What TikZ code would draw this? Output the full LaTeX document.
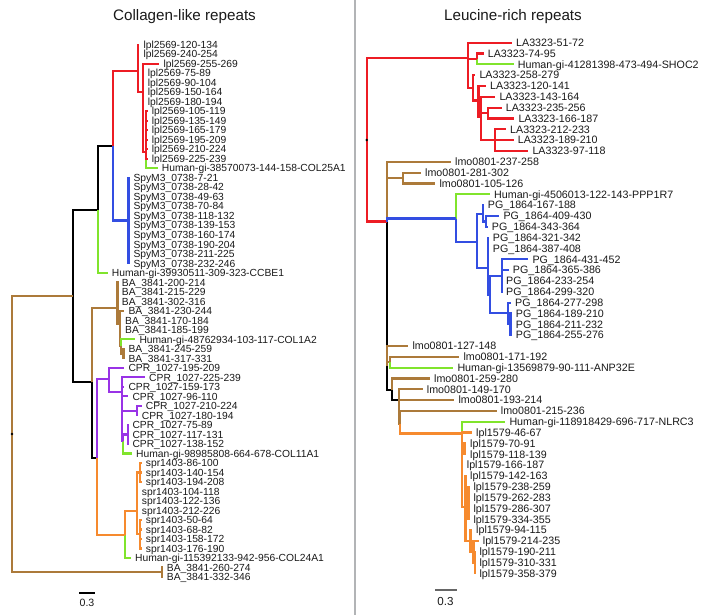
\documentclass[tikz,border=0pt]{standalone}
\usepackage{fontspec}
\setmainfont{Liberation Sans}
\usepackage{tikz}
\usetikzlibrary{positioning, calc}
\definecolor{cladered}{RGB}{237, 28, 36}
\definecolor{cladeblue}{RGB}{51, 78, 226}
\definecolor{cladegreen}{RGB}{128, 228, 44}
\definecolor{cladebrown}{RGB}{172, 122, 58}
\definecolor{cladepurple}{RGB}{153, 51, 230}
\definecolor{cladeorange}{RGB}{246, 138, 46}
\definecolor{dividergray}{RGB}{178, 180, 182}
\definecolor{labelblack}{RGB}{25, 25, 25}

\begin{document}
\begin{tikzpicture}[
    x=1pt, y=-1pt,
    branch/.style={
        line width=2.2pt
    },
    leafa/.style={
        anchor=base west,
        inner sep=0pt,
        text=labelblack,
        font=\fontsize{10.3}{12}\selectfont
    },
    leafb/.style={
        leafa,
        font=\fontsize{10.7}{12}\selectfont
    },
    paneltitle/.style={
        anchor=base,
        inner sep=0pt,
        text=labelblack,
        font=\fontsize{15.2}{18}\selectfont
    },
    scalebar/.style={
        line width=1.6pt
    },
    scalelabel/.style={
        anchor=base,
        inner sep=0pt,
        text=labelblack
    }
]
    \useasboundingbox (0,0) rectangle (710,615);

    % Panel divider and titles
    \draw[dividergray, line width=1.5pt] (355,0) -- (355,615);
    \node[paneltitle] (titleA) at (184.5,20.6) {Collagen-like repeats};
    \node[paneltitle] (titleB) at (513,20.6) {Leucine-rich repeats};

    % Left tree: leaves
    \foreach \tx/\lab [count=\i] in {
        139.3/lpl2569-120-134, 139.3/lpl2569-240-254, 159.3/lpl2569-255-269,
        143.7/lpl2569-75-89, 143.7/lpl2569-90-104, 143.7/lpl2569-150-164,
        143.7/lpl2569-180-194, 147.7/lpl2569-105-119, 147.7/lpl2569-135-149,
        147.7/lpl2569-165-179, 147.7/lpl2569-195-209, 147.7/lpl2569-210-224,
        147.7/lpl2569-225-239, 157.7/Human-gi-38570073-144-158-COL25A1,
        129.3/SpyM3\_0738-7-21, 129.3/SpyM3\_0738-28-42, 129.3/SpyM3\_0738-49-63,
        129.3/SpyM3\_0738-70-84, 129.3/SpyM3\_0738-118-132, 129.3/SpyM3\_0738-139-153,
        129.3/SpyM3\_0738-160-174, 129.3/SpyM3\_0738-190-204, 129.3/SpyM3\_0738-211-225,
        129.3/SpyM3\_0738-232-246, 107.7/Human-gi-39930511-309-323-CCBE1,
        117.7/BA\_3841-200-214, 117.7/BA\_3841-215-229, 117.7/BA\_3841-302-316,
        124.3/BA\_3841-230-244, 121/BA\_3841-170-184, 121/BA\_3841-185-199,
        135.3/Human-gi-48762934-103-117-COL1A2, 124.3/BA\_3841-245-259,
        124.3/BA\_3841-317-331, 124.3/CPR\_1027-195-209, 145/CPR\_1027-225-239,
        124.3/CPR\_1027-159-173, 128.3/CPR\_1027-96-110, 141.7/CPR\_1027-210-224,
        137.7/CPR\_1027-180-194, 128.3/CPR\_1027-75-89, 128.3/CPR\_1027-117-131,
        128.3/CPR\_1027-138-152, 132/Human-gi-98985808-664-678-COL11A1,
        141.7/spr1403-86-100, 141.7/spr1403-140-154, 141.7/spr1403-194-208,
        137.7/spr1403-104-118, 137.7/spr1403-122-136, 137.7/spr1403-212-226,
        141.7/spr1403-50-64, 141.7/spr1403-68-82, 141.7/spr1403-158-172,
        141.7/spr1403-176-190, 131/Human-gi-115392133-942-956-COL24A1,
        162.7/BA\_3841-260-274, 162.7/BA\_3841-332-346
    }{
        \coordinate (a\i) at (\tx, {44.7+9.505*(\i-1)});
        \node[leafa] (ta\i) at ([xshift=4pt, yshift=-3.7pt]a\i) {\lab};
    }

    % Left tree: inner nodes
    \coordinate (rootA) at (12,434);
    \coordinate (n1) at (73.3,296);
    \coordinate (n2) at (98.3,210);
    \coordinate (n3) at (92.3,381.7);
    \coordinate (n4) at (96.7,458.3);
    \coordinate (r0) at (113.3,145.7);
    \coordinate (r1) at (138.3,70.7);
    \coordinate (r2) at (142.7,91.7);
    \coordinate (r3) at (146,151.7);
    \coordinate (b0) at (128.5,220.5);
    \coordinate (ba0) at (117.5,308);
    \coordinate (ba1) at (120,324);
    \coordinate (ba4) at (121,346);
    \coordinate (ba3) at (123.5,353.6);
    \coordinate (cp0) at (109,379);
    \coordinate (cp1) at (122.3,392);
    \coordinate (cp2) at (136.7,410.6);
    \coordinate (cp4) at (123.3,441);
    \coordinate (cp3) at (127.7,434.5);
    \coordinate (sp0) at (125,535);
    \coordinate (sp1) at (136.7,511);
    \coordinate (sp2) at (140,472.5);
    \coordinate (sp3) at (140,534.2);
    \coordinate (bx) at (161.7,572.3);

    % Right tree: leaves
    \foreach \tx/\lab [count=\i] in {
        512/LA3323-51-72, 483.7/LA3323-74-95, 513.7/Human-gi-41281398-473-494-SHOC2,
        475.3/LA3323-258-279, 486/LA3323-120-141, 495.3/LA3323-143-164,
        501.7/LA3323-235-256, 514.3/LA3323-166-187, 506/LA3323-212-233,
        513.7/LA3323-189-210, 528.3/LA3323-97-118, 451/lmo0801-237-258,
        421/lmo0801-281-302, 435.3/lmo0801-105-126, 490/Human-gi-4506013-122-143-PPP1R7,
        483.7/PG\_1864-167-188, 499.3/PG\_1864-409-430, 487.7/PG\_1864-343-364,
        488.7/PG\_1864-321-342, 488.7/PG\_1864-387-408, 528.3/PG\_1864-431-452,
        508.7/PG\_1864-365-386, 502/PG\_1864-233-254, 502/PG\_1864-299-320,
        511/PG\_1864-277-298, 511.7/PG\_1864-189-210, 511.7/PG\_1864-211-232,
        511.7/PG\_1864-255-276, 408.3/lmo0801-127-148, 459.3/lmo0801-171-192,
        453.3/Human-gi-13569879-90-111-ANP32E, 430/lmo0801-259-280,
        422.7/lmo0801-149-170, 454.3/lmo0801-193-214, 496.7/lmo0801-215-236,
        505.3/Human-gi-118918429-696-717-NLRC3, 472/lpl1579-46-67,
        466/lpl1579-70-91, 466/lpl1579-118-139, 462.7/lpl1579-166-187,
        466/lpl1579-142-163, 469.3/lpl1579-238-259, 469.3/lpl1579-262-283,
        469.3/lpl1579-286-307, 469.3/lpl1579-334-355, 472/lpl1579-94-115,
        478.7/lpl1579-214-235, 475.3/lpl1579-190-211, 475.3/lpl1579-310-331,
        475.3/lpl1579-358-379
    }{
        \coordinate (b\i) at (\tx, {42.7+10.83*(\i-1)});
        \node[leafb] (tb\i) at ([xshift=4pt, yshift=-3.8pt]b\i) {\lab};
    }

    % Right tree: inner nodes
    \coordinate (rootB) at (366.7,140);
    \coordinate (la0) at (467.7,58.3);
    \coordinate (la1) at (476.7,59);
    \coordinate (la2) at (473.3,88);
    \coordinate (la3) at (478.5,100.5);
    \coordinate (la4) at (481,116.7);
    \coordinate (la5) at (488.3,113.1);
    \coordinate (la6) at (495,140.2);
    \coordinate (m0) at (386.7,221.5);
    \coordinate (ma1) at (403.3,178.1);
    \coordinate (pg0) at (455.7,218.5);
    \coordinate (pg1) at (476.7,241.7);
    \coordinate (pg2) at (482.7,214);
    \coordinate (pg3) at (486,221.4);
    \coordinate (pg5) at (488.3,268.3);
    \coordinate (pg6) at (490,295);
    \coordinate (pg7) at (501.7,276);
    \coordinate (pg8) at (508.3,313.3);
    \coordinate (pg10) at (510.5,324.3);
    \coordinate (mb) at (387.3,365.8);
    \coordinate (mc) at (390,362.2);
    \coordinate (md) at (391.7,390);
    \coordinate (me) at (399.3,400);
    \coordinate (mf) at (399.8,423.5);
    \coordinate (lp0) at (461.7,433.5);
    \coordinate (lp1) at (462.3,446);
    \coordinate (lp2) at (464.5,448.8);
    \coordinate (lp3) at (465.5,506.6);
    \coordinate (lp4) at (468.5,503);
    \coordinate (lp5) at (470.5,540.9);
    \coordinate (lp6) at (473.5,551.7);
    \coordinate (lp7) at (475,562.6);

    % Branches, black first so coloured clades sit on top
    \foreach \p/\c in {n1/n2, n1/n3, n2/r0, n3/n4, m0/mb, mb/md, md/me}
        \draw[branch, black] (\p) |- (\c);
    \foreach \p/\c in {rootA/n1, rootA/bx, bx/a56, bx/a57, n3/ba0, ba0/a26, ba0/a27,
        ba0/a28, ba0/ba1, ba1/a29, ba1/a30, ba1/a31, ba1/ba4, ba4/ba3, ba3/a33, ba3/a34,
        m0/b12, m0/ma1, ma1/b13, ma1/b14, mb/b29, mb/mc, mc/b30, md/b32, me/b33, me/b34,
        me/mf, mf/b35}
        \draw[branch, cladebrown] (\p) |- (\c);
    \foreach \p/\c in {n2/a25, r3/a14, ba4/a32, cp4/a44, sp0/a55, la1/b3, pg0/b15,
        mc/b31, lp0/b36}
        \draw[branch, cladegreen] (\p) |- (\c);
    \foreach \p/\c in {r0/r1, r1/a1, r1/a2, r1/r2, r2/a3, r2/a4, r2/a5, r2/a6, r2/a7,
        r2/r3, r3/a8, r3/a9, r3/a10, r3/a11, r3/a12, r3/a13, rootB/la0, rootB/m0,
        la0/b1, la0/la1, la0/la2, la1/b2, la2/b4, la2/la3, la3/b5, la3/la4, la4/b6,
        la4/la5, la4/la6, la5/b7, la5/b8, la6/b9, la6/b10, la6/b11}
        \draw[branch, cladered] (\p) |- (\c);
    \foreach \p/\c in {r0/b0, b0/a15, b0/a16, b0/a17, b0/a18, b0/a19, b0/a20, b0/a21,
        b0/a22, b0/a23, b0/a24, m0/pg0, pg0/pg1, pg1/pg2, pg2/b16, pg2/pg3, pg3/b17,
        pg3/b18, pg1/pg5, pg5/b19, pg5/b20, pg5/pg6, pg6/pg7, pg6/pg8, pg7/b21,
        pg7/b22, pg7/b23, pg7/b24, pg8/b25, pg8/pg10, pg10/b26, pg10/b27, pg10/b28}
        \draw[branch, cladeblue] (\p) |- (\c);
    \foreach \p/\c in {n4/cp0, cp0/a35, cp0/cp1, cp1/a36, cp1/a37, cp1/a38, cp1/cp2,
        cp2/a39, cp2/a40, cp1/cp4, cp4/cp3, cp3/a41, cp3/a42, cp3/a43}
        \draw[branch, cladepurple] (\p) |- (\c);
    \foreach \p/\c in {n4/sp0, sp0/sp1, sp1/sp2, sp2/a45, sp2/a46, sp2/a47, sp1/a48,
        sp1/a49, sp1/a50, sp1/sp3, sp3/a51, sp3/a52, sp3/a53, sp3/a54, mf/lp0, lp0/lp1,
        lp1/b37, lp1/lp2, lp2/b38, lp2/b39, lp1/b40, lp1/lp3, lp3/b41, lp3/lp4,
        lp4/b42, lp4/b43, lp4/b44, lp4/b45, lp3/lp5, lp5/b46, lp5/lp6, lp6/b47,
        lp6/lp7, lp7/b48, lp7/b49, lp7/b50}
        \draw[branch, cladeorange] (\p) |- (\c);

    % Root marks
    \fill[black] (rootA) circle (1.3pt);
    \fill[black] (rootB) circle (1.3pt);

    % Scale bars
    \coordinate (sbA1) at (79,592.7);
    \coordinate (sbA2) at (95,592.7);
    \draw[scalebar, black] (sbA1) -- (sbA2);
    \node[scalelabel, font=\fontsize{10.6}{12}\selectfont] (sbA) at (87,606.7) {0.3};
    \coordinate (sbB1) at (435,590);
    \coordinate (sbB2) at (457.3,590);
    \draw[scalebar, black!60] (sbB1) -- (sbB2);
    \node[scalelabel, font=\fontsize{11.6}{14}\selectfont] (sbB) at (445.5,605) {0.3};

\end{tikzpicture}
\end{document}
